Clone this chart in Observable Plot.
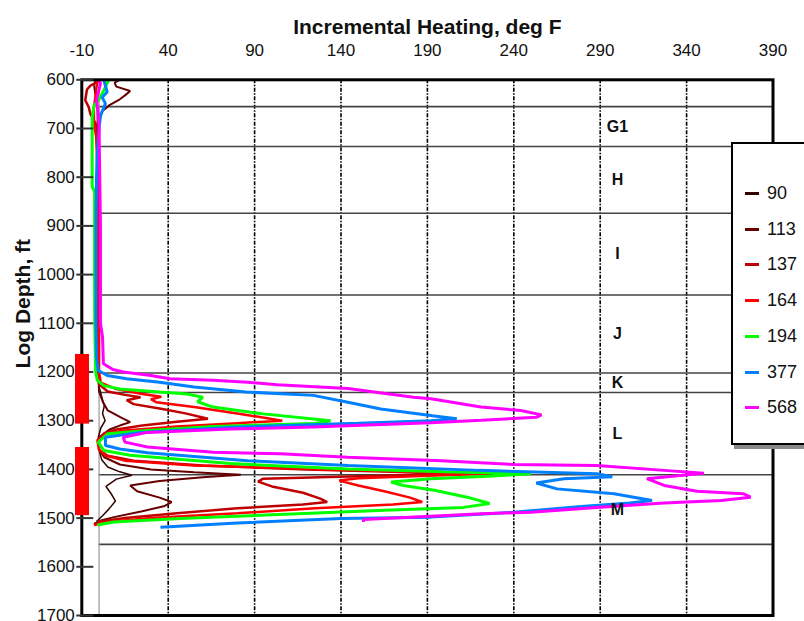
<!DOCTYPE html>
<html>
<head>
<meta charset="utf-8">
<script src="https://cdn.jsdelivr.net/npm/d3@7"></script>
<script src="https://cdn.jsdelivr.net/npm/@observablehq/plot@0.6"></script>
<style>
  html, body { margin: 0; padding: 0; background: #fff; overflow: hidden; }
  #wrap { position: relative; width: 804px; height: 621px; overflow: hidden; font-family: Arial, "Liberation Sans", sans-serif; }
  #legend { position: absolute; left: 731px; top: 142px; width: 100px; height: 299px; border: 2px solid #000; background: #fff; box-shadow: 3px 4px 0 #8a8a8a; }
  #legend .item { position: absolute; left: 0; height: 20px; }
  #legend .sw { position: absolute; left: 12px; top: 8px; width: 14px; height: 3px; }
  #legend .lab { position: absolute; left: 34px; top: -1px; font-size: 18px; color: #111; line-height: 20px; }
</style>
</head>
<body>
<div id="wrap"><div id="chart"></div><div id="legend"></div></div>
<script>
// ---------- data ----------
const seriesNames  = ["90", "113", "137", "164", "194", "377", "568"];
const seriesColors = ["#330000", "#660000", "#c00000", "#ff0000", "#00ff00", "#0080ff", "#ff00ff"];
const seriesWidths = [1.5, 2, 2.5, 2.5, 3, 3, 3];

const depth90 = [600, 610, 625, 640, 660, 700, 800, 900, 1000, 1100, 1200, 1230, 1250, 1270, 1285, 1300, 1315, 1335, 1360, 1380, 1395, 1405, 1412, 1420, 1435, 1450, 1465, 1480, 1495, 1507];
const heat90  = [-2, -3, -2.5, -1.5, -1, -1, -1, -1, -1, -0.5, -0.5, 0, 1.5, 3, 2, 3.5, 1, -0.5, 0, 1.5, 5, 12, 19, 10, 4, 7, 9.5, 6, 2, -1.5];

const depth113 = [600, 606, 614, 623, 632, 640, 652, 664, 685, 720, 800, 1000, 1200, 1240, 1260, 1279, 1292, 1303, 1310, 1318, 1334, 1360, 1375, 1390, 1400, 1406, 1411, 1416, 1424, 1433, 1445, 1458, 1467, 1475, 1486, 1497, 1505, 1512];
const heat113  = [12, 9, 10, 18, 15, 12, 6, 2, 0, -0.5, -0.5, -0.5, -0.5, 0, 2, 5, 12, 18, 12, 6, 0, 0, 3, 12, 30, 55, 82, 60, 35, 18, 22, 35, 42, 38, 25, 10, 1, -3];

const depth137 = [600, 605, 612, 620, 642, 656, 670, 690, 750, 900, 1100, 1200, 1225, 1240, 1247, 1252, 1258, 1266, 1275, 1285, 1296, 1302, 1310, 1318, 1326, 1340, 1360, 1372, 1382, 1392, 1400, 1405, 1410, 1414, 1419, 1425, 1435, 1448, 1460, 1467, 1472, 1480, 1490, 1500, 1508];
const heat137  = [0, -1, -5, -7, -8, -6, -5, -2, -1, -1, -1, -1, 0, 5, 15, 24, 16, 20, 35, 50, 63, 45, 25, 10, 3, 0, 0, 5, 20, 60, 120, 170, 205, 150, 95, 92, 100, 118, 128, 132, 118, 80, 45, 15, -1];

const depth164 = [600, 630, 660, 690, 720, 800, 1000, 1100, 1200, 1222, 1235, 1245, 1251, 1256, 1262, 1272, 1285, 1300, 1305, 1312, 1320, 1326, 1340, 1360, 1372, 1382, 1392, 1400, 1405, 1409, 1413, 1418, 1423, 1433, 1445, 1458, 1467, 1472, 1480, 1490, 1500, 1508, 1514];
const heat164  = [-1, -2, -3, -3, -1.5, -1, -0.5, 0, 0, 1, 10, 25, 36, 30, 33, 55, 80, 106, 80, 45, 15, 4, -1, 0, 4, 15, 55, 130, 185, 225, 190, 150, 139, 150, 165, 180, 187, 170, 125, 80, 30, 5, -3];

const depth194 = [600, 612, 622, 640, 653, 680, 720, 780, 819, 830, 900, 1000, 1100, 1200, 1217, 1228, 1235, 1241, 1245, 1252, 1261, 1272, 1286, 1300, 1306, 1312, 1320, 1327, 1344, 1361, 1371, 1388, 1399, 1405, 1409, 1414, 1419, 1426, 1433, 1443, 1457, 1470, 1478, 1484, 1491, 1501, 1508, 1514];
const heat194  = [5.6, 4, 2.7, 0, -3, -4, -4, -4, -4, -2.6, -2.6, -2.6, -2.5, -2, -1, 2.7, 12, 35, 51, 60, 57, 66, 95, 134, 124, 66, 28, 5, -0.5, 2.7, 18, 76, 144, 200, 250, 225, 192, 169, 176, 194, 213, 226, 211, 165, 115, 47, 8.5, -1];

const depth377 = [600, 625, 636, 649, 673, 700, 750, 800, 900, 1000, 1100, 1170, 1197, 1207, 1214, 1221, 1231, 1241, 1248, 1262, 1276, 1290, 1296, 1300, 1305, 1313, 1324, 1334, 1351, 1358, 1366, 1382, 1392, 1402, 1409, 1415, 1419, 1428, 1440, 1450, 1464, 1469, 1476, 1488, 1498, 1501, 1510, 1519];
const heat377  = [2.7, 4.7, 1.8, 3.7, 0.8, 0, -1, -1.5, -1.8, -1.8, -1.8, -1.5, -0.5, 4.7, 16, 35, 55, 85, 124, 144, 163, 193, 207, 192, 150, 80, 24, 3.7, 3.7, 12, 28, 86, 144, 220, 288, 297, 269, 253, 265, 298, 320, 307, 279, 240, 192, 140, 80, 35.5];

const depth568 = [600, 607, 620, 640, 670, 700, 800, 900, 1000, 1100, 1128, 1183, 1195, 1200, 1207, 1214, 1217, 1221, 1226, 1234, 1252, 1255, 1272, 1279, 1288, 1293, 1299, 1304, 1313, 1317, 1324, 1334, 1344, 1354, 1365, 1368, 1375, 1382, 1390, 1392, 1402, 1408, 1413, 1419, 1433, 1445, 1450, 1457, 1464, 1469, 1478, 1488, 1491, 1496, 1503, 1508];
const heat568  = [-0.2, 0.8, 0, -1.5, -0.5, 0, 0.4, 0.8, 0.8, 0.8, 2, 2.5, 8, 14, 30, 41, 66, 86, 103, 144, 182, 192, 221, 244, 256, 253, 221, 192, 124, 76, 28, 14, 15, 28, 66, 105, 144, 198, 240, 288, 327, 350, 335, 317, 327, 346, 373, 377, 360, 327, 288, 250, 221, 192, 153, 153];

const seriesDepths = [depth90, depth113, depth137, depth164, depth194, depth377, depth568];
const seriesHeats  = [heat90, heat113, heat137, heat164, heat194, heat377, heat568];

const xTicks = [-10, 40, 90, 140, 190, 240, 290, 340, 390];
const xGrid  = [40, 90, 140, 190, 240, 290, 340];
const yTicks = [600, 700, 800, 900, 1000, 1100, 1200, 1300, 1400, 1500, 1600, 1700];

const zoneNames  = ["G1", "H", "I", "J", "K", "L", "M"];
const zoneBounds = [655, 737, 874, 1042, 1202, 1242, 1411, 1554];
const perfTops    = [1164, 1355];
const perfBottoms = [1307, 1495];

// ---------- build ----------
const zones = zoneNames.map((name, i) => ({name, mid: (zoneBounds[i] + zoneBounds[i + 1]) / 2}));
const perfs = perfTops.map((t, i) => ({top: t, bottom: perfBottoms[i]}));

const lineMarks = seriesNames.map((name, i) =>
  Plot.line(seriesDepths[i].map((d, j) => ({depth: d, heat: seriesHeats[i][j]})), {
    x: "heat", y: "depth", stroke: seriesColors[i], strokeWidth: seriesWidths[i],
    strokeLinejoin: "miter", strokeLinecap: "butt"
  })
);

const chart = Plot.plot({
  width: 804,
  height: 621,
  marginLeft: 81.3,
  marginRight: 31.5,
  marginTop: 79.3,
  marginBottom: 6,
  x: {domain: [-10, 390], axis: null},
  y: {domain: [600, 1700], reverse: true, axis: null},
  style: {fontFamily: "Arial, 'Liberation Sans', sans-serif", background: "#fff", color: "#111"},
  marks: [
    Plot.ruleX(xGrid, {stroke: "#000", strokeWidth: 1.6, strokeDasharray: "4,1.5,1.5,1.5"}),
    Plot.ruleY(zoneBounds, {x1: 0, x2: 390, stroke: "#444", strokeWidth: 1.6}),
    Plot.ruleX([0], {stroke: "#999", strokeWidth: 1.2}),
    ...lineMarks,
    Plot.frame({stroke: "#000", strokeWidth: 3}),
    Plot.ruleY(yTicks, {x1: () => -10, x2: () => -10, insetLeft: -5, insetRight: -12, stroke: "#333", strokeWidth: 2}),
    Plot.axisY(yTicks, {anchor: "left", label: null, tickSize: 0, tickPadding: 7, fontSize: 17, fill: "#111", tickFormat: d => String(d)}),
    Plot.rect(perfs, {x1: () => -10, x2: () => -10, y1: "top", y2: "bottom", insetLeft: -6.3, insetRight: -7.7, fill: "#ff0000"}),
    Plot.text(zones, {x: () => 300, y: "mid", text: "name", fontWeight: "bold", fontSize: 16, fill: "#111"}),
    Plot.axisX(xTicks, {anchor: "top", label: null, tickSize: 0, tickPadding: 24, fontSize: 17, fill: "#111", tickFormat: d => String(d)}),
    Plot.text(["Incremental Heating, deg F"], {frameAnchor: "top", dy: -61, fontWeight: "bold", fontSize: 21, fill: "#111"}),
    Plot.text(["Log Depth, ft"], {frameAnchor: "left", textAnchor: "middle", rotate: -90, dx: -59, dy: -44, fontWeight: "bold", fontSize: 21, fill: "#111"})
  ]
});
document.getElementById("chart").appendChild(chart);

// legend
const legend = document.getElementById("legend");
seriesNames.forEach((name, i) => {
  const item = document.createElement("div");
  item.className = "item";
  item.style.top = (40 + i * 35.7) + "px";
  const sw = document.createElement("div");
  sw.className = "sw";
  sw.style.background = seriesColors[i];
  const lab = document.createElement("div");
  lab.className = "lab";
  lab.textContent = name;
  item.appendChild(sw);
  item.appendChild(lab);
  legend.appendChild(item);
});
</script>
</body>
</html>
